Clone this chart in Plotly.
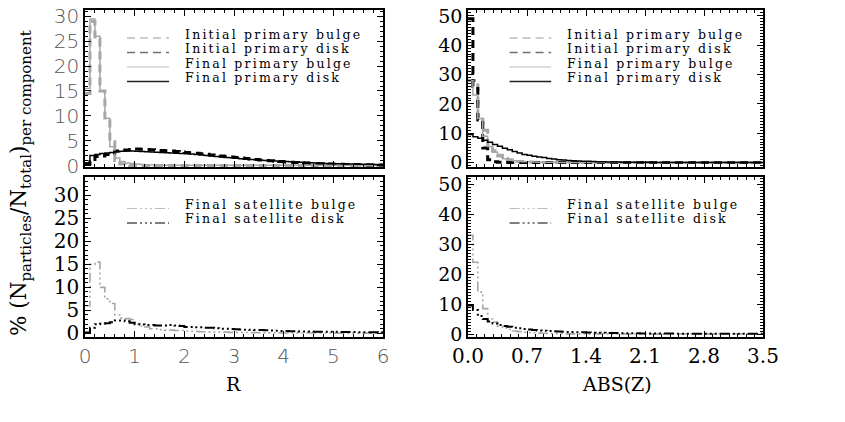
import plotly.graph_objects as go

# ---------------- data (percent of particles per component, 60 bins) ----------------
N_BINS = 60
R_MAX = 6.0
Z_MAX = 3.5

# Top-left: radial distribution, primary galaxy
r_init_bulge = [14.5, 29.0, 25.5, 15.0, 9.0, 4.8, 1.0, 0.3, 0.1] + [0.0] * 51
r_final_bulge = [15.5, 29.5, 26.0, 15.0, 9.5, 3.8, 1.5, 0.8, 0.5, 0.4,
                 0.3, 0.2, 0.15, 0.1, 0.1, 0.05, 0.05, 0.05, 0.04, 0.04] + [0.03] * 40
r_init_disk = [0.3, 0.8, 1.8, 1.9, 2.2, 2.5, 2.9, 3.0, 3.1, 3.2,
               3.3, 3.25, 3.2, 3.15, 3.1, 3.0, 2.95, 2.9, 2.8, 2.7,
               2.6, 2.5, 2.45, 2.35, 2.25, 2.1, 2.0, 1.9, 1.8, 1.7,
               1.6, 1.5, 1.4, 1.3, 1.2, 1.1, 1.0, 0.95, 0.85, 0.8,
               0.7, 0.65, 0.6, 0.55, 0.5, 0.45, 0.4, 0.35, 0.32, 0.3,
               0.27, 0.24, 0.22, 0.2, 0.18, 0.16, 0.14, 0.12, 0.1, 0.1]
r_final_disk = [0.5, 2.0, 2.2, 2.4, 2.5, 2.6, 2.75, 2.85, 2.9, 2.9,
                2.85, 2.8, 2.75, 2.7, 2.65, 2.6, 2.55, 2.5, 2.45, 2.4,
                2.35, 2.3, 2.2, 2.1, 2.0, 1.9, 1.8, 1.7, 1.6, 1.55,
                1.45, 1.35, 1.3, 1.2, 1.15, 1.05, 1.0, 0.95, 0.9, 0.85,
                0.8, 0.75, 0.7, 0.65, 0.6, 0.55, 0.5, 0.45, 0.42, 0.4,
                0.37, 0.34, 0.32, 0.3, 0.28, 0.26, 0.25, 0.24, 0.22, 0.2]

# Bottom-left: radial distribution, satellite
r_sat_bulge = [6.0, 15.0, 15.5, 10.0, 7.5, 6.5, 4.0, 3.3, 3.2, 3.0,
               2.0, 1.6, 1.4, 1.0, 1.0, 0.8, 0.7, 0.7, 0.6, 0.6,
               0.5, 0.45, 0.4, 0.35, 0.35, 0.3, 0.3, 0.25, 0.25, 0.2,
               0.2, 0.18, 0.18, 0.15, 0.15, 0.12, 0.12, 0.1, 0.1, 0.1,
               0.08, 0.08, 0.08, 0.07, 0.07, 0.07, 0.06, 0.06, 0.06, 0.06,
               0.05, 0.05, 0.05, 0.05, 0.05, 0.05, 0.05, 0.05, 0.05, 0.05]
r_sat_disk = [0.2, 1.2, 2.0, 2.1, 2.2, 2.4, 2.8, 2.8, 2.6, 2.3,
              2.0, 1.9, 1.8, 1.8, 1.7, 1.7, 1.7, 1.8, 1.7, 1.6,
              1.4, 1.4, 1.3, 1.3, 1.2, 1.2, 1.1, 1.0, 1.0, 0.95,
              0.9, 0.85, 0.8, 0.75, 0.7, 0.7, 0.65, 0.6, 0.55, 0.5,
              0.5, 0.45, 0.45, 0.4, 0.4, 0.38, 0.36, 0.35, 0.34, 0.33,
              0.32, 0.3, 0.3, 0.28, 0.27, 0.26, 0.25, 0.24, 0.23, 0.22]

# Top-right: vertical distribution, primary galaxy
z_init_bulge = [28.0, 28.0, 16.0, 11.0, 6.0, 4.0, 2.5, 1.5, 1.0, 0.6,
                0.4, 0.3, 0.2, 0.1] + [0.0] * 46
z_final_bulge = [28.0, 23.0, 15.0, 9.0, 5.5, 3.5, 2.0, 1.3, 0.8, 0.6,
                 0.4, 0.3, 0.25, 0.2, 0.15, 0.1, 0.1, 0.08, 0.06, 0.05] + [0.03] * 40
z_init_disk = [49.0, 26.0, 14.5, 5.0, 1.0, 0.3, 0.1] + [0.0] * 53
z_final_disk = [9.6, 8.8, 8.3, 7.6, 6.9, 6.2, 5.6, 4.9, 4.4, 3.8,
                3.3, 2.8, 2.5, 2.2, 1.9, 1.7, 1.4, 1.2, 1.0, 0.85,
                0.75, 0.65, 0.55, 0.5, 0.42, 0.36, 0.3, 0.27, 0.24, 0.2,
                0.18, 0.16, 0.14, 0.12, 0.11, 0.1, 0.09, 0.08, 0.07, 0.06] + [0.05] * 20

# Bottom-right: vertical distribution, satellite
z_sat_bulge = [33.0, 24.0, 14.0, 8.5, 5.0, 4.0, 2.5, 2.0, 1.5, 1.0,
               0.8, 0.6, 0.5, 0.4, 0.3, 0.25, 0.2, 0.15, 0.1, 0.1] + [0.05] * 40
z_sat_disk = [9.5, 8.0, 6.0, 5.0, 4.2, 3.5, 3.0, 2.7, 2.4, 2.1,
              1.9, 1.7, 1.5, 1.3, 1.2, 1.1, 1.0, 0.9, 0.8, 0.75,
              0.7, 0.65, 0.6, 0.55, 0.5, 0.45, 0.4, 0.38, 0.35, 0.32,
              0.3, 0.28, 0.26, 0.24, 0.22, 0.2, 0.18, 0.17, 0.16, 0.15,
              0.14, 0.13, 0.12, 0.12, 0.11, 0.1, 0.1, 0.09, 0.09, 0.08,
              0.08, 0.07, 0.07, 0.07, 0.06, 0.06, 0.06, 0.05, 0.05, 0.05]

R_TICKS = [0, 1, 2, 3, 4, 5, 6]
Z_TICKS = [0.0, 0.7, 1.4, 2.1, 2.8, 3.5]
Z_TICK_TEXT = ["0.0", "0.7", "1.4", "2.1", "2.8", "3.5"]

LABELS_PRIMARY = ["Initial primary bulge", "Initial primary disk",
                  "Final primary bulge", "Final primary disk"]
LABELS_SAT = ["Final satellite bulge", "Final satellite disk"]

# ---------------- styling ----------------
GRAY = "#a6a6a6"
BLACK = "#000000"
DASH = "8px,5px"
DASHDOT3 = "10px,3px,2px,3px,2px,3px,2px,3px"
SERIF = "DejaVu Serif, Liberation Serif, serif"
THIN = "DejaVu Sans, Liberation Sans, sans-serif"

STYLES = {
    "Initial primary bulge": dict(color=GRAY, width=3, dash=DASH),
    "Initial primary disk": dict(color=BLACK, width=3, dash=DASH),
    "Final primary bulge": dict(color=GRAY, width=1.5, dash="solid"),
    "Final primary disk": dict(color=BLACK, width=1.5, dash="solid"),
    "Final satellite bulge": dict(color=GRAY, width=1.6, dash=DASHDOT3),
    "Final satellite disk": dict(color=BLACK, width=2, dash=DASHDOT3),
}
LEGEND_STYLES = {
    "Initial primary bulge": dict(color="#bdbdbd", width=1.5, dash=DASH),
    "Initial primary disk": dict(color="#707070", width=1.5, dash=DASH),
    "Final primary bulge": dict(color="#bdbdbd", width=1.2, dash="solid"),
    "Final primary disk": dict(color="#202020", width=1.5, dash="solid"),
    "Final satellite bulge": dict(color="#bdbdbd", width=1.2, dash=DASHDOT3),
    "Final satellite disk": dict(color="#555555", width=1.5, dash=DASHDOT3),
}


def edges(xmax, n):
    return [xmax * i / n for i in range(n + 1)]


def step_y(vals):
    return list(vals) + [vals[-1]]


fig = go.Figure()

panels = [
    ("x", "y", edges(R_MAX, N_BINS), LABELS_PRIMARY, [r_init_bulge, r_init_disk, r_final_bulge, r_final_disk]),
    ("x2", "y2", edges(Z_MAX, N_BINS), LABELS_PRIMARY, [z_init_bulge, z_init_disk, z_final_bulge, z_final_disk]),
    ("x3", "y3", edges(R_MAX, N_BINS), LABELS_SAT, [r_sat_bulge, r_sat_disk]),
    ("x4", "y4", edges(Z_MAX, N_BINS), LABELS_SAT, [z_sat_bulge, z_sat_disk]),
]

for xa, ya, xe, labels, series in panels:
    for name, vals in zip(labels, series):
        fig.add_trace(go.Scatter(
            x=xe, y=step_y(vals), mode="lines", name=name,
            line=dict(shape="hv", **STYLES[name]),
            xaxis=xa, yaxis=ya, showlegend=False, hoverinfo="skip",
        ))

# ---------------- hand-drawn legends (IDL style) ----------------
legend_rows = {
    "x": (LABELS_PRIMARY, [0.847, 0.755, 0.662, 0.570]),
    "x2": (LABELS_PRIMARY, [0.847, 0.755, 0.662, 0.570]),
    "x3": (LABELS_SAT, [0.828, 0.738]),
    "x4": (LABELS_SAT, [0.828, 0.738]),
}
for xa, (labels, ys) in legend_rows.items():
    ya = xa.replace("x", "y")
    for name, yy in zip(labels, ys):
        fig.add_shape(type="line", xref=f"{xa} domain", yref=f"{ya} domain",
                      x0=0.141, x1=0.282, y0=yy - 0.025, y1=yy - 0.025,
                      line=LEGEND_STYLES[name])
        fig.add_annotation(text=f'<span style="letter-spacing:2.2px">{name}</span>',
                           xref=f"{xa} domain", yref=f"{ya} domain",
                           x=0.33, y=yy, xanchor="left", yanchor="middle",
                           showarrow=False, font=dict(family=SERIF, size=12.5, color="black"))

# ---------------- axes ----------------
W, H = 845, 422


def px_x(a, b):
    return [a / W, b / W]


def px_y(top, bottom):
    return [(H - bottom) / H, (H - top) / H]


XL = px_x(85, 383)
XR = px_x(468, 763)
YT = px_y(10, 167)
YB = px_y(177, 337)

common = dict(showline=True, linecolor="black", linewidth=1.5, mirror="allticks",
              ticks="inside", ticklen=6, tickwidth=1, tickcolor="black",
              showgrid=False, zeroline=False, automargin=False,
              ticklabeloverflow="allow")


def minor(d):
    return dict(ticks="inside", ticklen=3, tickwidth=1, tickcolor="black", dtick=d, showgrid=False)


THIN_FONT = dict(family=THIN, size=20, color="#555", weight=200)
SERIF_FONT = dict(family=SERIF, size=20, color="black")
SERIF_FONT_R = dict(family=SERIF, size=19, color="black")

fig.update_layout(
    width=W, height=H,
    margin=dict(l=0, r=0, t=0, b=0),
    paper_bgcolor="white", plot_bgcolor="white",
    showlegend=False,
    xaxis=dict(domain=XL, anchor="y", range=[0, 6], tickvals=R_TICKS, showticklabels=False,
               minor=minor(0.2), **common),
    yaxis=dict(domain=YT, anchor="x", range=[-0.3, 31.3], tickvals=[0, 5, 10, 15, 20, 25, 30],
               minor=minor(1), tickfont=THIN_FONT, **common),
    xaxis2=dict(domain=XR, anchor="y2", range=[0, 3.5], tickvals=Z_TICKS, showticklabels=False,
                minor=minor(0.1), **common),
    yaxis2=dict(domain=YT, anchor="x2", range=[-1.5, 52], tickvals=[0, 10, 20, 30, 40, 50],
                minor=minor(1), tickfont=SERIF_FONT_R, **common),
    xaxis3=dict(domain=XL, anchor="y3", range=[0, 6], tickvals=R_TICKS,
                ticktext=[str(v) for v in R_TICKS],
                minor=minor(0.2), tickfont=THIN_FONT, **common),
    yaxis3=dict(domain=YB, anchor="x3", range=[-0.8, 34], tickvals=[0, 5, 10, 15, 20, 25, 30],
                minor=minor(1), tickfont=SERIF_FONT, **common),
    xaxis4=dict(domain=XR, anchor="y4", range=[0, 3.5], tickvals=Z_TICKS, ticktext=Z_TICK_TEXT,
                minor=minor(0.1), tickfont=SERIF_FONT, **common),
    yaxis4=dict(domain=YB, anchor="x4", range=[-1, 52.5], tickvals=[0, 10, 20, 30, 40, 50],
                minor=minor(1), tickfont=SERIF_FONT_R, **common),
)

# axis titles
fig.add_annotation(text="R", xref="paper", yref="paper", x=233 / W, y=(H - 384) / H,
                   xanchor="center", yanchor="middle", showarrow=False,
                   font=dict(family=SERIF, size=19, color="black"))
fig.add_annotation(text="ABS(Z)", xref="paper", yref="paper", x=617 / W, y=(H - 384) / H,
                   xanchor="center", yanchor="middle", showarrow=False,
                   font=dict(family=SERIF, size=19, color="black"))

fig.add_annotation(
    text="% (N<sub>particles</sub>/N<sub>total</sub>)<sub>per component</sub>",
    xref="paper", yref="paper", x=20 / W, y=(H - 183) / H,
    xanchor="center", yanchor="middle", textangle=-90, showarrow=False,
    font=dict(family=SERIF, size=21.5, color="black"),
)

# remove the default 8px page margin so the figure sits at the window origin; no toolbar
fig.write_html("out.html", config={"displayModeBar": False},
               post_script="document.body.style.margin='0px';")
